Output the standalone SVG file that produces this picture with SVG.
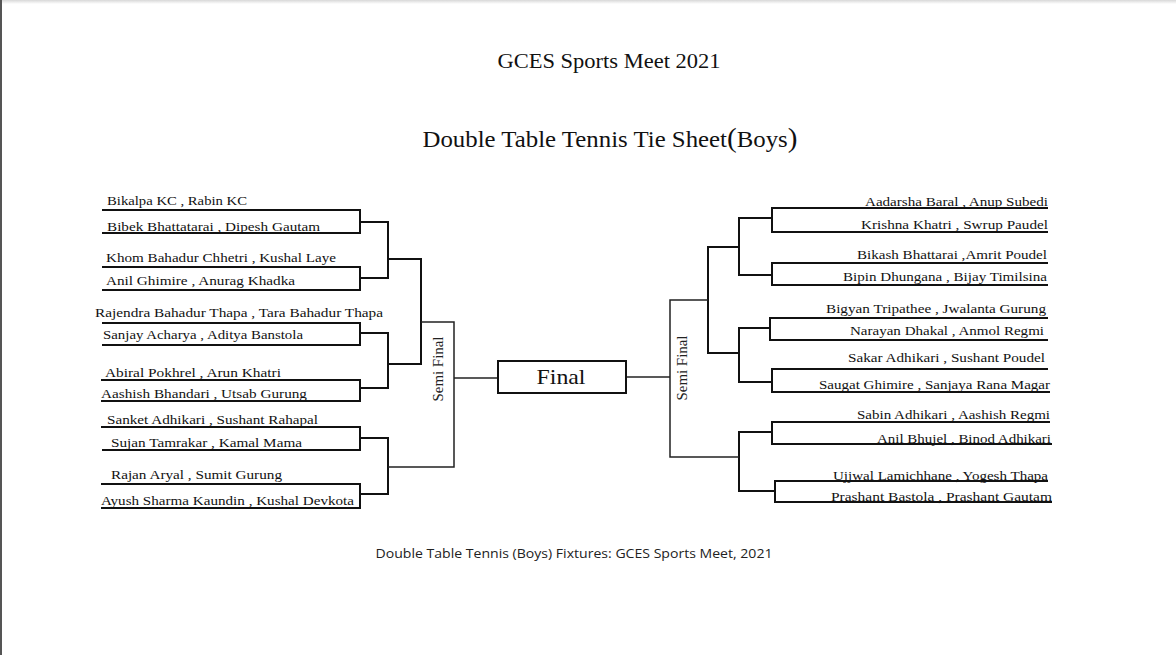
<svg xmlns="http://www.w3.org/2000/svg" width="1176" height="655" viewBox="0 0 1176 655">
<defs>
<linearGradient id="topShade" x1="0" y1="0" x2="0" y2="1">
<stop offset="0" stop-color="#d8d8d8"/>
<stop offset="1" stop-color="#ffffff"/>
</linearGradient>
</defs>
<style>
.name{font-family:"Liberation Serif","DejaVu Serif",serif;font-size:13.5px;fill:#111}
.rname{font-family:"Liberation Serif","DejaVu Serif",serif;font-size:13.5px;fill:#111;text-anchor:end}
.tl{stroke:#111;stroke-width:2;fill:none}
.br{stroke:#111;stroke-width:2;fill:none;stroke-linecap:square}
.sf{stroke:#222;stroke-width:1.5;fill:none}
.semi{font-family:"Liberation Serif","DejaVu Serif",serif;font-size:14px;fill:#222;text-anchor:middle}
.title{font-family:"Liberation Serif","DejaVu Serif",serif;fill:#111;text-anchor:middle}
.cap{font-family:"Open Sans","Noto Sans","Liberation Sans",sans-serif;font-size:13px;fill:#222;text-anchor:middle}
</style>
<rect x="0" y="0" width="1176" height="655" fill="#ffffff"/>
<rect x="0" y="0" width="1176" height="4" fill="url(#topShade)"/>
<line x1="1" y1="0" x2="1" y2="655" stroke="#555" stroke-width="2"/>

<g id="title">
<text class="title" x="609" y="68" font-size="20" textLength="223" lengthAdjust="spacingAndGlyphs">GCES Sports Meet 2021</text>
</g>
<g id="subtitle">
<text class="title" x="610" y="147" font-size="23" textLength="375" lengthAdjust="spacingAndGlyphs">Double Table Tennis Tie Sheet<tspan font-size="27">(</tspan>Boys<tspan font-size="27">)</tspan></text>
</g>

<g id="left-teams">
<g id="L1"><text class="name" x="107" y="205" textLength="140" lengthAdjust="spacingAndGlyphs">Bikalpa KC , Rabin KC</text><line class="tl" x1="102" y1="210" x2="360" y2="210"/></g>
<g id="L2"><text class="name" x="107" y="231" textLength="213" lengthAdjust="spacingAndGlyphs">Bibek Bhattatarai , Dipesh Gautam</text><line class="tl" x1="102" y1="233" x2="360" y2="233"/></g>
<g id="L3"><text class="name" x="106" y="262" textLength="230" lengthAdjust="spacingAndGlyphs">Khom Bahadur Chhetri , Kushal Laye</text><line class="tl" x1="102" y1="267" x2="360" y2="267"/></g>
<g id="L4"><text class="name" x="106" y="285" textLength="189" lengthAdjust="spacingAndGlyphs">Anil Ghimire , Anurag Khadka</text><line class="tl" x1="102" y1="290" x2="360" y2="290"/></g>
<g id="L5"><text class="name" x="95" y="317" textLength="288" lengthAdjust="spacingAndGlyphs">Rajendra Bahadur Thapa , Tara Bahadur Thapa</text><line class="tl" x1="102" y1="323" x2="360" y2="323"/></g>
<g id="L6"><text class="name" x="103" y="339" textLength="200" lengthAdjust="spacingAndGlyphs">Sanjay Acharya , Aditya Banstola</text><line class="tl" x1="102" y1="345" x2="360" y2="345"/></g>
<g id="L7"><text class="name" x="105" y="377" textLength="176" lengthAdjust="spacingAndGlyphs">Abiral Pokhrel , Arun Khatri</text><line class="tl" x1="101" y1="380" x2="360" y2="380"/></g>
<g id="L8"><text class="name" x="101" y="398" textLength="206" lengthAdjust="spacingAndGlyphs">Aashish Bhandari , Utsab Gurung</text><line class="tl" x1="101" y1="401" x2="360" y2="401"/></g>
<g id="L9"><text class="name" x="107" y="424" textLength="211" lengthAdjust="spacingAndGlyphs">Sanket Adhikari , Sushant Rahapal</text><line class="tl" x1="101" y1="427" x2="360" y2="427"/></g>
<g id="L10"><text class="name" x="111" y="447" textLength="191" lengthAdjust="spacingAndGlyphs">Sujan Tamrakar , Kamal Mama</text><line class="tl" x1="102" y1="450" x2="360" y2="450"/></g>
<g id="L11"><text class="name" x="111" y="479" textLength="171" lengthAdjust="spacingAndGlyphs">Rajan Aryal , Sumit Gurung</text><line class="tl" x1="101" y1="484" x2="360" y2="484"/></g>
<g id="L12"><text class="name" x="101" y="505" textLength="253" lengthAdjust="spacingAndGlyphs">Ayush Sharma Kaundin , Kushal Devkota</text><line class="tl" x1="101" y1="508" x2="360" y2="508"/></g>
</g>

<g id="right-teams">
<g id="R1"><text class="rname" x="1048" y="206" textLength="183" lengthAdjust="spacingAndGlyphs">Aadarsha Baral , Anup Subedi</text><line class="tl" x1="772" y1="208" x2="1048" y2="208"/></g>
<g id="R2"><text class="rname" x="1048" y="229" textLength="187" lengthAdjust="spacingAndGlyphs">Krishna Khatri , Swrup Paudel</text><line class="tl" x1="772" y1="232" x2="1048" y2="232"/></g>
<g id="R3"><text class="rname" x="1047" y="259" textLength="190" lengthAdjust="spacingAndGlyphs">Bikash Bhattarai ,Amrit Poudel</text><line class="tl" x1="772" y1="263" x2="1048" y2="263"/></g>
<g id="R4"><text class="rname" x="1047" y="281" textLength="204" lengthAdjust="spacingAndGlyphs">Bipin Dhungana , Bijay Timilsina</text><line class="tl" x1="772" y1="285" x2="1048" y2="285"/></g>
<g id="R5"><text class="rname" x="1046" y="313" textLength="220" lengthAdjust="spacingAndGlyphs">Bigyan Tripathee , Jwalanta Gurung</text><line class="tl" x1="770" y1="318" x2="1048" y2="318"/></g>
<g id="R6"><text class="rname" x="1044" y="335" textLength="194" lengthAdjust="spacingAndGlyphs">Narayan Dhakal , Anmol Regmi</text><line class="tl" x1="770" y1="340" x2="1048" y2="340"/></g>
<g id="R7"><text class="rname" x="1045" y="362" textLength="197" lengthAdjust="spacingAndGlyphs">Sakar Adhikari , Sushant Poudel</text><line class="tl" x1="772" y1="369" x2="1048" y2="369"/></g>
<g id="R8"><text class="rname" x="1050" y="389" textLength="231" lengthAdjust="spacingAndGlyphs">Saugat Ghimire , Sanjaya Rana Magar</text><line class="tl" x1="772" y1="392" x2="1050" y2="392"/></g>
<g id="R9"><text class="rname" x="1050" y="419" textLength="193" lengthAdjust="spacingAndGlyphs">Sabin Adhikari , Aashish Regmi</text><line class="tl" x1="772" y1="422" x2="1050" y2="422"/></g>
<g id="R10"><text class="rname" x="1051" y="443" textLength="174" lengthAdjust="spacingAndGlyphs">Anil Bhujel , Binod Adhikari</text><line class="tl" x1="772" y1="444" x2="1052" y2="444"/></g>
<g id="R11"><text class="rname" x="1048" y="480" textLength="215" lengthAdjust="spacingAndGlyphs">Ujjwal Lamichhane , Yogesh Thapa</text><line class="tl" x1="775" y1="481" x2="1048" y2="481"/></g>
<g id="R12"><text class="rname" x="1052" y="501" textLength="221" lengthAdjust="spacingAndGlyphs">Prashant Bastola , Prashant Gautam</text><line class="tl" x1="775" y1="502" x2="1052" y2="502"/></g>
</g>

<g id="connectors">
<path class="br" d="M360 210V233M360 267V290M360 323V345M360 380V401M360 427V450M360 484V508"/>
<path class="br" d="M360 222H388M360 278H388M360 333H388M360 388H388M360 438H388M360 494H388"/>
<path class="br" d="M388 222V278M388 333V388M388 438V494"/>
<path class="br" d="M388 259H421M388 364H421M421 259V364"/>
<path class="sf" d="M421 322H454V467H388"/>
<path class="sf" d="M454 378H498"/>
<path class="br" d="M772 208V232M772 263V285M770 318V340M772 369V392M772 422V444M775 481V502"/>
<path class="br" d="M739 218H772M739 275H772M739 328H770M739 382H772M739 432H772M739 491H775"/>
<path class="br" d="M739 218V275M739 328V382M739 432V491"/>
<path class="br" d="M708 247H739M708 353H739M708 247V353"/>
<path class="sf" d="M708 300H670V457H739"/>
<path class="sf" d="M626 377H670"/>
</g>

<g id="semi-left"><text class="semi" transform="translate(443 369) rotate(-90)" textLength="65" lengthAdjust="spacingAndGlyphs">Semi Final</text></g>
<g id="semi-right"><text class="semi" transform="translate(687 368) rotate(-90)" textLength="65" lengthAdjust="spacingAndGlyphs">Semi Final</text></g>

<g id="final">
<rect x="498" y="361" width="128" height="32" fill="#fff" stroke="#111" stroke-width="2"/>
<text class="title" x="561" y="384" font-size="22" textLength="49" lengthAdjust="spacingAndGlyphs">Final</text>
</g>

<g id="caption">
<text class="cap" x="574" y="558" textLength="397" lengthAdjust="spacingAndGlyphs">Double Table Tennis (Boys) Fixtures: GCES Sports Meet, 2021</text>
</g>
</svg>
